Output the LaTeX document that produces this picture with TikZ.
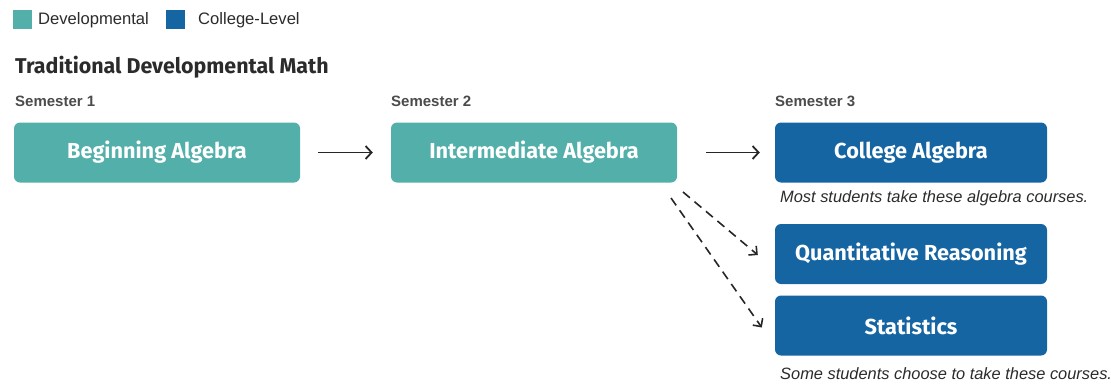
\documentclass[tikz,border=0pt]{standalone}
\usepackage{fontspec}
\setmainfont{Fira Sans}
\newfontfamily\notefont{Liberation Sans}
\usetikzlibrary{arrows.meta}
\definecolor{devteal}{HTML}{52AFA9}
\definecolor{collblue}{HTML}{1565A3}
\definecolor{inkdark}{HTML}{2B2B2B}
\tikzset{
  course/.style={rounded corners=6pt, minimum height=60pt, inner sep=0pt,
    text=white, font=\fontsize{21.7}{24}\selectfont\bfseries},
  devbox/.style={course, fill=devteal, minimum width=286pt},
  colbox/.style={course, fill=collblue, minimum width=272pt},
  semlabel/.style={anchor=west, inner sep=0pt, text=inkdark!85,
    font=\notefont\bfseries\fontsize{15}{17}\selectfont},
  note/.style={anchor=west, inner sep=0pt, text=inkdark,
    font=\notefont\itshape\fontsize{16.4}{18}\selectfont},
  legendtext/.style={anchor=west, inner sep=0pt, text=inkdark,
    font=\notefont\fontsize{16.6}{18}\selectfont},
  swatch/.style={minimum size=19pt, inner sep=0pt},
  flow/.style={-{Straight Barb[length=6pt,width=13pt,line width=1.8pt]}, line width=1.8pt, draw=black!85},
  option/.style={-{Straight Barb[length=6pt,width=12pt,line width=1.6pt]}, line width=1.6pt,
    draw=black!85, dash pattern=on 9pt off 6pt}
}
\begin{document}
\begin{tikzpicture}[x=1pt,y=-1pt]
\useasboundingbox (0,0) rectangle (1111,383);
% legend
\node[swatch, fill=devteal] (sw1) at (22,19.5) {};
\node[legendtext] (lg1) at (38,20) {Developmental};
\node[swatch, fill=collblue] (sw2) at (175.5,19.5) {};
\node[legendtext] (lg2) at (198,20) {College-Level};
% heading
\node[anchor=west, inner sep=0pt, text=inkdark, font=\fontsize{21.4}{24}\selectfont\bfseries] (title) at (15,67) {Traditional Developmental Math};
\node[semlabel] (s1) at (15,101) {Semester 1};
\node[semlabel] (s2) at (391,101) {Semester 2};
\node[semlabel] (s3) at (775,101) {Semester 3};
% course boxes
\node[devbox] (beg) at (157,152.5) {Beginning Algebra};
\node[devbox] (int) at (534,152.5) {Intermediate Algebra};
\node[colbox] (calg) at (911,152.5) {College Algebra};
\node[colbox] (qr) at (911,254) {Quantitative Reasoning};
\node[colbox] (stat) at (911,325.5) {Statistics};
% notes
\node[note] (n1) at (780,198) {Most students take these algebra courses.};
\node[note] (n2) at (780,374) {Some students choose to take these courses.};
% connectors
\draw[flow] (beg.east) ++(18,0) coordinate (a1s) -- ([xshift=-18pt]int.west);
\draw[flow] (int.east) ++(29,0) coordinate (a2s) -- ([xshift=-15pt]calg.west);
\coordinate (d1s) at (683,192);
\coordinate (d2s) at (671,198);
\draw[option] (d1s) -- ([xshift=-17pt,yshift=-1pt]qr.west);
\draw[option] (d2s) -- ([xshift=-13pt,yshift=-2pt]stat.west);
\end{tikzpicture}
\end{document}
